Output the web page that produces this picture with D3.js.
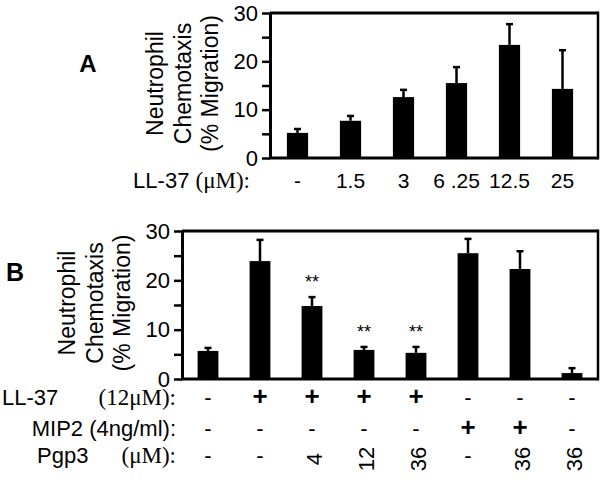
<!DOCTYPE html>
<html>
<head>
<meta charset="utf-8">
<script src="https://cdn.jsdelivr.net/npm/d3@7"></script>
<style>
  body { margin: 0; background: #fff; }
  svg { display: block; }
  text { font-family: "Liberation Sans", Arial, sans-serif; fill: #000; }
  .serif { font-family: "Liberation Serif", "Times New Roman", serif; }
</style>
</head>
<body>
<svg id="chart" width="606" height="480"></svg>
<script>
// ---------- Data ----------
const catsA = ["-", "1.5", "3", "6 .25", "12.5", "25"];
const valsA = [5.2, 7.7, 12.6, 15.5, 23.4, 14.3];
const errA  = [0.8, 1.0, 1.5, 3.3, 4.3, 8.0];

const valsB = [5.7, 23.9, 14.8, 5.9, 5.3, 25.5, 22.3, 1.2];
const errB  = [0.6, 4.3, 1.8, 0.6, 1.2, 2.9, 3.6, 1.0];
const ll37  = ["-", "+", "+", "+", "+", "-", "-", "-"];
const mip2  = ["-", "-", "-", "-", "-", "+", "+", "-"];
const pgp3  = ["-", "-", "4", "12", "36", "-", "36", "36"];
const sigB  = ["", "", "**", "**", "**", "", "", ""];

const yTickLabels = [0, 10, 20, 30];
const yMinorTicks = [5, 15, 25];
const yMax = 30;

const svg = d3.select("#chart");

function panel(opts) {
  const { x0, x1, yTop, yBot, bandRange, vals, errs } = opts;
  const g = svg.append("g");
  const n = vals.length;
  const x = d3.scaleBand().domain(d3.range(n)).range(bandRange)
    .paddingInner(0.6).paddingOuter(0.3);
  const y = d3.scaleLinear().domain([0, yMax]).range([yBot, yTop]);

  // minor ticks
  const minor = g.append("g").attr("transform", `translate(${x0},0)`)
    .call(d3.axisLeft(y).tickValues(yMinorTicks).tickSize(8).tickFormat(""));
  minor.select(".domain").remove();
  minor.selectAll("line").attr("stroke-width", 2.5);

  const ax = g.append("g").attr("transform", `translate(${x0},0)`)
    .call(d3.axisLeft(y).tickValues(yTickLabels).tickSize(8).tickSizeOuter(0).tickPadding(4));
  ax.select(".domain").attr("stroke-width", 3);
  ax.selectAll("line").attr("stroke-width", 2.5);
  ax.selectAll("text").style("font-size", "22px").attr("font-family", "Liberation Sans, Arial, sans-serif");

  // frame
  g.append("line").attr("x1", x0).attr("x2", x1).attr("y1", y(yMax)).attr("y2", y(yMax))
    .attr("stroke", "#000").attr("stroke-width", 3);
  g.append("line").attr("x1", x0 - 1).attr("x2", x1).attr("y1", y(0)).attr("y2", y(0))
    .attr("stroke", "#000").attr("stroke-width", 3);
  g.append("line").attr("x1", x1).attr("x2", x1).attr("y1", y(yMax) - 1.5).attr("y2", y(0) + 1.5)
    .attr("stroke", "#000").attr("stroke-width", 2.5);

  // bars
  g.selectAll(".bar").data(vals).join("rect")
    .attr("x", (d, i) => x(i)).attr("width", x.bandwidth())
    .attr("y", d => y(d)).attr("height", d => y(0) - y(d))
    .attr("fill", "#000");

  // error bars
  g.selectAll(".err").data(vals).join("line")
    .attr("x1", (d, i) => x(i) + x.bandwidth() / 2)
    .attr("x2", (d, i) => x(i) + x.bandwidth() / 2)
    .attr("y1", d => y(d))
    .attr("y2", (d, i) => y(d + errs[i]))
    .attr("stroke", "#000").attr("stroke-width", 2.5);
  g.selectAll(".cap").data(vals).join("line")
    .attr("x1", (d, i) => x(i) + x.bandwidth() / 2 - 3.5)
    .attr("x2", (d, i) => x(i) + x.bandwidth() / 2 + 3.5)
    .attr("y1", (d, i) => y(d + errs[i]))
    .attr("y2", (d, i) => y(d + errs[i]))
    .attr("stroke", "#000").attr("stroke-width", 2.5);

  // y label
  const lines = ["Neutrophil", "Chemotaxis", "(% Migration)"];
  const offs = [-107, -79, -52];
  const cy = (yTop + yBot) / 2 - 2;
  lines.forEach((t, i) => {
    g.append("text")
      .attr("transform", `translate(${x0 + offs[i]},${cy}) rotate(-90)`)
      .attr("text-anchor", "middle")
      .style("font-size", "23px")
      .text(t);
  });
  return { g, x, y };
}

// ---------- Panel A ----------
const A = panel({ x0: 270, x1: 598, yTop: 13, yBot: 158, bandRange: [271, 589], vals: valsA, errs: errA });
svg.append("text").attr("x", 88).attr("y", 72).attr("text-anchor", "middle")
  .style("font-size", "24px").style("font-weight", "bold").text("A");
const labA = svg.append("text").attr("x", 250).attr("y", 188).attr("text-anchor", "end").style("font-size", "22px");
labA.append("tspan").text("LL-37 ");
labA.append("tspan").attr("class", "serif").style("font-size", "23px").text("(\u03BCM):");
svg.selectAll(".catA").data(catsA).join("text")
  .attr("x", (d, i) => A.x(i) + A.x.bandwidth() / 2)
  .attr("y", 188).attr("text-anchor", "middle").style("font-size", "21px")
  .text(d => d);

// ---------- Panel B ----------
const B = panel({ x0: 182, x1: 598, yTop: 231, yBot: 379, bandRange: [182, 598], vals: valsB, errs: errB });
svg.append("text").attr("x", 6).attr("y", 281)
  .style("font-size", "25px").style("font-weight", "bold").text("B");

// significance
svg.selectAll(".sig").data(sigB).join("text")
  .attr("x", (d, i) => B.x(i) + B.x.bandwidth() / 2)
  .attr("y", (d, i) => B.y(valsB[i] + errB[i]) - 9)
  .attr("text-anchor", "middle").style("font-size", "18px")
  .text(d => d);

// row labels
const rowY = [405, 436, 463];
svg.append("text").attr("x", 2).attr("y", rowY[0]).style("font-size", "22px").text("LL-37");
svg.append("text").attr("x", 176).attr("y", rowY[0]).attr("text-anchor", "end")
  .attr("class", "serif").style("font-size", "23px").text("(12\u03BCM):");
svg.append("text").attr("x", 176).attr("y", rowY[1]).attr("text-anchor", "end")
  .style("font-size", "22px").text("MIP2 (4ng/ml):");
svg.append("text").attr("x", 37).attr("y", rowY[2]).style("font-size", "22px").text("Pgp3");
svg.append("text").attr("x", 176).attr("y", rowY[2]).attr("text-anchor", "end")
  .attr("class", "serif").style("font-size", "23px").text("(\u03BCM):");

const cx = i => B.x(i) + B.x.bandwidth() / 2;
svg.selectAll(".r1").data(ll37).join("text")
  .attr("x", (d, i) => cx(i)).attr("y", rowY[0]).attr("text-anchor", "middle")
  .style("font-size", d => d === "+" ? "26px" : "22px").style("font-weight", d => d === "+" ? "bold" : "normal")
  .text(d => d);
svg.selectAll(".r2").data(mip2).join("text")
  .attr("x", (d, i) => cx(i)).attr("y", rowY[1]).attr("text-anchor", "middle")
  .style("font-size", d => d === "+" ? "26px" : "22px").style("font-weight", d => d === "+" ? "bold" : "normal")
  .text(d => d);
svg.selectAll(".r3").data(pgp3).join("text")
  .each(function (d, i) {
    const t = d3.select(this);
    if (d === "-") {
      t.attr("x", cx(i)).attr("y", rowY[2]).attr("text-anchor", "middle").style("font-size", "22px");
    } else {
      t.attr("transform", `translate(${cx(i) + 2},459) rotate(-90)`)
        .attr("text-anchor", "middle").attr("dy", "0.36em").style("font-size", "22px");
    }
    t.text(d);
  });
</script>
</body>
</html>
